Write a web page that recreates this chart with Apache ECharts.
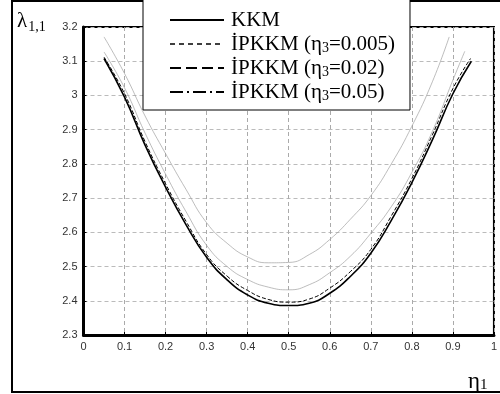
<!DOCTYPE html>
<html><head><meta charset="utf-8">
<script src="https://cdn.jsdelivr.net/npm/echarts@6/dist/echarts.min.js"></script>
<style>html,body{margin:0;padding:0;background:#fff}#c{width:500px;height:394px}</style>
</head><body><div id="c"></div>
<script>
// ---- data ----
const seriesNames = ['KKM', 'İPKKM (η3=0.005)', 'İPKKM (η3=0.02)', 'İPKKM (η3=0.05)'];
const etaKKM  = [0.05,0.1,0.15,0.2,0.25,0.3,0.35,0.4,0.45,0.5,0.55,0.6,0.65,0.7,0.75,0.8,0.85,0.9,0.945];
const valKKM  = [3.108,2.995,2.855,2.732,2.622,2.527,2.461,2.417,2.393,2.386,2.393,2.422,2.471,2.539,2.635,2.745,2.87,3.005,3.10];
const eta005  = [0.05,0.1,0.15,0.2,0.25,0.3,0.35,0.4,0.45,0.5,0.55,0.6,0.65,0.7,0.75,0.8,0.85,0.9,0.943];
const val005  = [3.112,3.005,2.865,2.742,2.632,2.535,2.472,2.430,2.404,2.396,2.405,2.437,2.485,2.550,2.648,2.757,2.885,3.02,3.108];
const eta002  = [0.05,0.1,0.15,0.2,0.25,0.3,0.35,0.4,0.45,0.5,0.55,0.6,0.65,0.7,0.75,0.8,0.85,0.9,0.929];
const val002  = [3.127,3.022,2.89,2.77,2.66,2.562,2.50,2.462,2.440,2.432,2.447,2.482,2.530,2.597,2.675,2.775,2.895,3.045,3.129];
const eta05   = [0.05,0.1,0.15,0.2,0.25,0.3,0.35,0.4,0.45,0.5,0.55,0.6,0.65,0.7,0.75,0.8,0.85,0.891];
const val05   = [3.171,3.064,2.94,2.83,2.725,2.628,2.568,2.528,2.511,2.512,2.535,2.579,2.638,2.707,2.80,2.91,3.04,3.171];
const xTicks = [0,0.1,0.2,0.3,0.4,0.5,0.6,0.7,0.8,0.9,1];
const yTicks = [2.3,2.4,2.5,2.6,2.7,2.8,2.9,3,3.1,3.2];

const zip = (a,b) => a.map((x,i)=>[x,b[i]]);
const serif = '"Liberation Serif","Times New Roman",serif';
const sans = '"Liberation Sans",Arial,sans-serif';

const chart = echarts.init(document.getElementById('c'), null, {renderer:'canvas'});
const legendStyles = [
  {color:'#000', width:2, type:'solid'},
  {color:'#000', width:1.5, type:[5,4]},
  {color:'#000', width:2, type:[11,5]},
  {color:'#000', width:2, type:[13,4,2,4]}
];
const fmtTick = v => String(+v.toFixed(1));
chart.setOption({
  animation:false,
  backgroundColor:'#fff',
  graphic:[{type:'rect', z:0, shape:{x:12,y:1,width:500,height:391}, style:{fill:'none', stroke:'#000', lineWidth:2}}],
  title:[
    {text:'{a|λ}{s|1,1}', left:12, top:3, textStyle:{rich:{a:{fontFamily:serif,fontSize:21,fontWeight:'normal',color:'#000',lineHeight:26},s:{fontFamily:serif,fontSize:14,fontWeight:'normal',color:'#000',verticalAlign:'bottom',lineHeight:26,padding:[0,0,0,1]}}}},
    {text:'{a|η}{s|1}', left:463, top:363, textStyle:{rich:{a:{fontFamily:serif,fontSize:23,fontWeight:'normal',color:'#000',lineHeight:28},s:{fontFamily:serif,fontSize:15,fontWeight:'normal',color:'#000',verticalAlign:'bottom',lineHeight:28,padding:[0,0,3,0]}}}}
  ],
  legend:{
    orient:'vertical', left:143, top:-1,
    backgroundColor:'#fff', borderColor:'#000', borderWidth:1,
    padding:[10,15,7,26], itemGap:2, itemWidth:54, itemHeight:14,
    data: seriesNames.map((n,i)=>({name:n, lineStyle:legendStyles[i], itemStyle:{opacity:0}})),
    formatter: n => n.replace('η3','η{s|3}'),
    textStyle:{fontFamily:serif, fontSize:21, color:'#000', lineHeight:22, padding:[0,0,0,2],
      rich:{s:{fontFamily:serif,fontSize:14,color:'#000',lineHeight:22,verticalAlign:'bottom',padding:[0,0,0,0]}}}
  },
  grid:{left:83.5, right:4, top:27, bottom:59, show:true, borderColor:'#000', borderWidth:2},
  xAxis:{type:'value', min:0, max:1, interval:0.1,
    axisLine:{lineStyle:{color:'#000',width:3}},
    axisTick:{inside:true,length:3,lineStyle:{color:'#000'}},
    axisLabel:{fontFamily:sans,fontSize:11,color:'#333',margin:6, formatter:fmtTick},
    splitLine:{show:true,lineStyle:{color:'#aaa',type:[4,3],width:1}}},
  yAxis:{type:'value', min:2.3, max:3.2, interval:0.1,
    axisLine:{show:true,lineStyle:{color:'#000',width:3}},
    axisTick:{show:true,inside:true,length:3,lineStyle:{color:'#000'}},
    axisLabel:{fontFamily:sans,fontSize:11,color:'#333',margin:6, formatter:fmtTick},
    splitLine:{show:true,lineStyle:{color:'#bbb',type:[4,3],width:1}}},
  series:[
    {name:seriesNames[0], type:'line', smooth:true, symbol:'none', data:zip(etaKKM,valKKM), itemStyle:{color:'#000'}, lineStyle:{color:'#000',width:1.6}, z:5},
    {name:seriesNames[1], type:'line', smooth:true, symbol:'none', data:zip(eta005,val005), itemStyle:{color:'#000'}, lineStyle:{color:'#000',width:1,type:[4,2]}, z:4},
    {name:seriesNames[2], type:'line', smooth:true, symbol:'none', data:zip(eta002,val002), itemStyle:{color:'#000'}, lineStyle:{color:'#a0a0a0',width:0.7}, z:3},
    {name:seriesNames[3], type:'line', smooth:true, symbol:'none', data:zip(eta05,val05), itemStyle:{color:'#000'}, lineStyle:{color:'#a0a0a0',width:0.7}, z:3}
  ]
});
</script></body></html>
